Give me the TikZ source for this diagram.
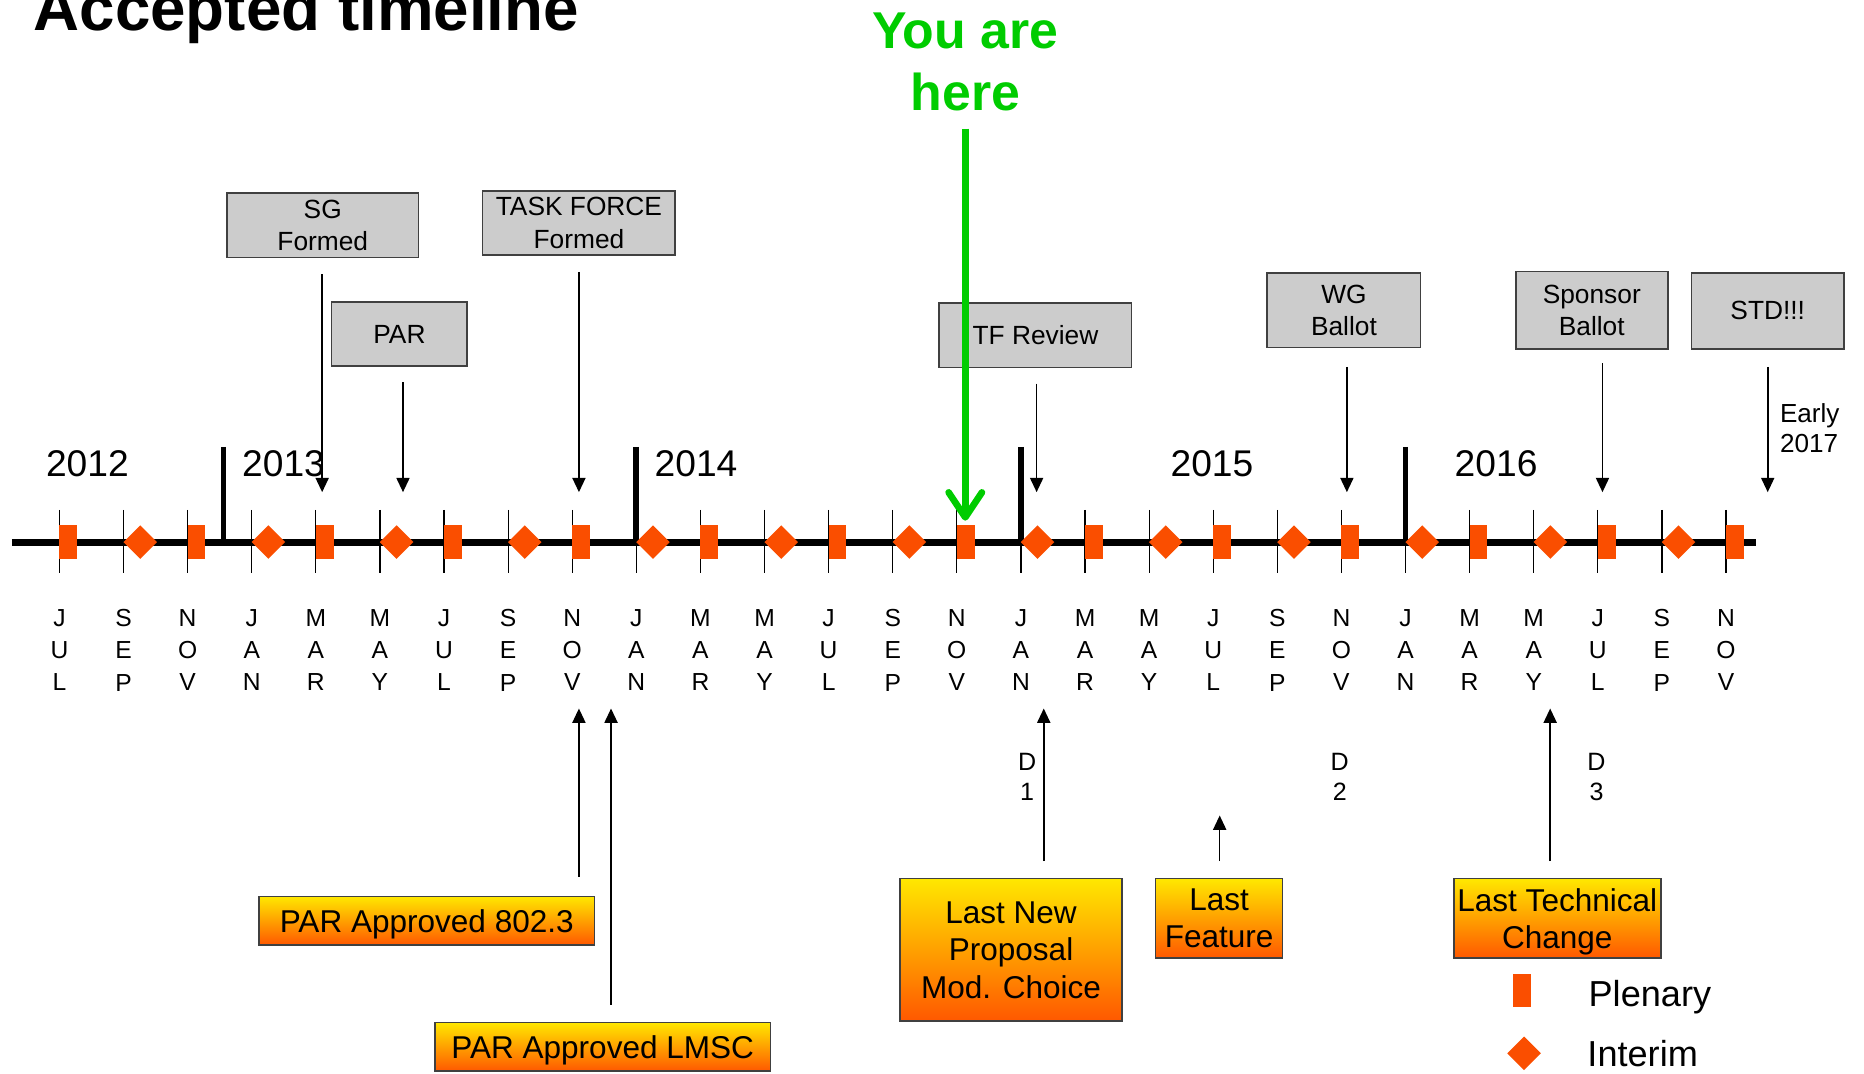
\documentclass[tikz,border=0pt]{standalone}
\usepackage{fontspec}
\setmainfont{Liberation Sans}
\usetikzlibrary{arrows.meta,shapes.geometric}

\definecolor{meetorange}{RGB}{250,78,0}
\definecolor{boxgray}{RGB}{204,204,204}
\definecolor{boxline}{RGB}{64,64,64}
\definecolor{hereGreen}{RGB}{0,204,0}
\definecolor{shadeTop}{RGB}{255,232,0}
\definecolor{shadeBot}{RGB}{255,88,0}

\begin{document}
\begin{tikzpicture}[x=0.02cm,y=-0.02cm,
    graybox/.style={draw=boxline,fill=boxgray,line width=0.75pt,align=center,inner sep=0pt,font=\fontsize{12.6}{15.4}\selectfont},
    orangebox/.style={draw=boxline,top color=shadeTop,bottom color=shadeBot,line width=0.75pt,align=center,inner sep=0pt,text depth=0pt,font=\fontsize{15.1}{17.9}\selectfont},
    plen/.style={rectangle,fill=meetorange,minimum width=0.3cm,minimum height=0.56cm,inner sep=0pt},
    intr/.style={diamond,fill=meetorange,minimum width=0.57cm,minimum height=0.57cm,inner sep=0pt},
    evarrow/.style={line width=0.75pt,-{Triangle[width=0.22cm,length=0.24cm]}},
    monthlbl/.style={align=center,inner sep=0pt,font=\fontsize{11.8}{15.4}\selectfont},
    yearlbl/.style={inner sep=0pt,font=\fontsize{17.8}{20}\selectfont}]
    \useasboundingbox (0,0) rectangle (1568,903);
    \clip (0,0) rectangle (1568,903);

    %title
    \node[anchor=base west,inner sep=0pt,font=\fontsize{30.5}{36}\selectfont\bfseries] (title) at (28,26) {Accepted timeline};

    %events above the line
    \node[graybox,minimum width=3.22cm,minimum height=1.08cm] (sg) at (271.5,189.5) {SG\\Formed};
    \node[graybox,minimum width=2.28cm,minimum height=1.08cm] (par) at (336,281) {PAR};
    \node[graybox,minimum width=3.24cm,minimum height=1.08cm] (tf) at (487,187.5) {TASK FORCE\\Formed};
    \node[graybox,minimum width=3.24cm,minimum height=1.08cm] (tfr) at (871,282) {TF Review};
    \node[graybox,minimum width=2.58cm,minimum height=1.26cm] (wg) at (1130.5,261) {WG\\Ballot};
    \node[graybox,minimum width=2.56cm,minimum height=1.30cm] (spb) at (1339,261) {Sponsor\\Ballot};
    \node[graybox,minimum width=2.56cm,minimum height=1.28cm] (std) at (1487,261.5) {STD!!!};
    \node[anchor=west,align=left,inner sep=0pt,font=\fontsize{12.5}{14.4}\selectfont] (early) at (1497,360) {Early\\2017};

    \coordinate (sgTip) at (271,414);
    \coordinate (parTip) at (339,414);
    \coordinate (tfTip) at (487,414);
    \coordinate (tfrTip) at (872,414);
    \coordinate (wgTip) at (1133,414);
    \coordinate (spbTip) at (1348,414);
    \coordinate (stdTip) at (1487,414);

    %years
    \node[yearlbl] (y2012) at (73.5,390) {2012};
    \node[yearlbl] (y2013) at (238.5,390) {2013};
    \node[yearlbl] (y2014) at (585.5,390) {2014};
    \node[yearlbl] (y2015) at (1019.5,390) {2015};
    \node[yearlbl] (y2016) at (1258.5,390) {2016};

    \draw[evarrow,shorten <=0.27cm] (sg.south -| sgTip) -- (sgTip);
    \draw[evarrow,shorten <=0.26cm] (par.south -| parTip) -- (parTip);
    \draw[evarrow,shorten <=0.27cm] (tf.south -| tfTip) -- (tfTip);
    \draw[evarrow,shorten <=0.26cm] (tfr.south -| tfrTip) -- (tfrTip);
    \draw[evarrow,shorten <=0.31cm] (wg.south -| wgTip) -- (wgTip);
    \draw[evarrow,shorten <=0.23cm] (spb.south -| spbTip) -- (spbTip);
    \draw[evarrow,shorten <=0.29cm] (std.south -| stdTip) -- (stdTip);

    %time line
    \draw[line width=3.4pt] (10,456) -- (1477,456);
    \foreach \a/\b/\c [count=\i from 0] in {J/U/L,S/E/P,N/O/V,J/A/N,M/A/R,M/A/Y,J/U/L,S/E/P,N/O/V,J/A/N,M/A/R,M/A/Y,J/U/L,S/E/P,N/O/V,J/A/N,M/A/R,M/A/Y,J/U/L,S/E/P,N/O/V,J/A/N,M/A/R,M/A/Y,J/U/L,S/E/P,N/O/V} {
        \coordinate (m\i) at ({50+53.92*\i},456);
        \draw[line width=0.6pt] ({50+53.92*\i},429) -- ({50+53.92*\i},482);
        \node[monthlbl] (ml\i) at ({50+53.92*\i},547) {\a\\\b\\\c};
    }
    \draw[line width=2.8pt] (188,376) -- (188,456);
    \draw[line width=2.8pt] (m9 |- 0,376) -- (m9);
    \draw[line width=2.8pt] (m15 |- 0,376) -- (m15);
    \draw[line width=2.8pt] (m21 |- 0,376) -- (m21);
    \foreach \i in {0,2,...,26}
        \node[plen] (p\i) at ([xshift=0.15cm]m\i) {};
    \foreach \i in {1,3,...,25}
        \node[intr] (n\i) at ([xshift=0.28cm]m\i) {};

    %deadlines
    \node[monthlbl,font=\fontsize{12}{14.7}\selectfont] (d1) at (864,653.5) {D\\1};
    \node[monthlbl,font=\fontsize{12}{14.7}\selectfont] (d2) at (1127,653.5) {D\\2};
    \node[monthlbl,font=\fontsize{12}{14.7}\selectfont] (d3) at (1343,653.5) {D\\3};

    %events below the line
    \node[orangebox,minimum width=5.64cm,minimum height=0.82cm] (par3) at (359,774.5) {PAR Approved 802.3};
    \node[orangebox,minimum width=5.64cm,minimum height=0.82cm] (lmsc) at (507,880.5) {PAR Approved LMSC};
    \node[orangebox,minimum width=3.74cm,minimum height=2.40cm] (lnp) at (850.5,799) {Last New\\Proposal\\Mod. Choice};
    \node[orangebox,minimum width=2.14cm,minimum height=1.34cm] (lf) at (1025.5,772.5) {Last\\Feature};
    \node[orangebox,minimum width=3.48cm,minimum height=1.34cm] (ltc) at (1310,772.5) {Last Technical\\Change};

    \coordinate (par3Tip) at (487,596);
    \coordinate (lmscTip) at (514,596);
    \coordinate (lnpTip) at (878,596);
    \coordinate (lfTip) at (1026,686);
    \coordinate (ltcTip) at (1304,596);

    \draw[evarrow,shorten <=0.32cm] (par3.north -| par3Tip) -- (par3Tip);
    \draw[evarrow,shorten <=0.28cm] (lmsc.north -| lmscTip) -- (lmscTip);
    \draw[evarrow,shorten <=0.28cm] (lnp.north -| lnpTip) -- (lnpTip);
    \draw[evarrow,shorten <=0.28cm] (lf.north -| lfTip) -- (lfTip);
    \draw[evarrow,shorten <=0.28cm] (ltc.north -| ltcTip) -- (ltcTip);

    %legend
    \node[plen] (lgPlen) at (1280.5,833) {};
    \node[anchor=base west,inner sep=0pt,font=\fontsize{17.3}{20}\selectfont] (lgPlenTxt) at (1336,847) {Plenary};
    \node[intr] (lgIntr) at (1282,886) {};
    \node[anchor=base west,inner sep=0pt,font=\fontsize{17.3}{20}\selectfont] (lgIntrTxt) at (1335,897) {Interim};

    %you are here
    \node[anchor=north,align=center,inner sep=0pt,text=hereGreen,font=\fontsize{24.8}{29.9}\selectfont\bfseries] (here) at (812,10.5) {You are\\here};
    \coordinate (nowTip) at (812,438);
    \draw[hereGreen,line width=3.2pt,-{Straight Barb[length=0.42cm,width=0.56cm,round]},shorten <=0.28cm] (here.south -| nowTip) -- (nowTip);
\end{tikzpicture}
\end{document}
